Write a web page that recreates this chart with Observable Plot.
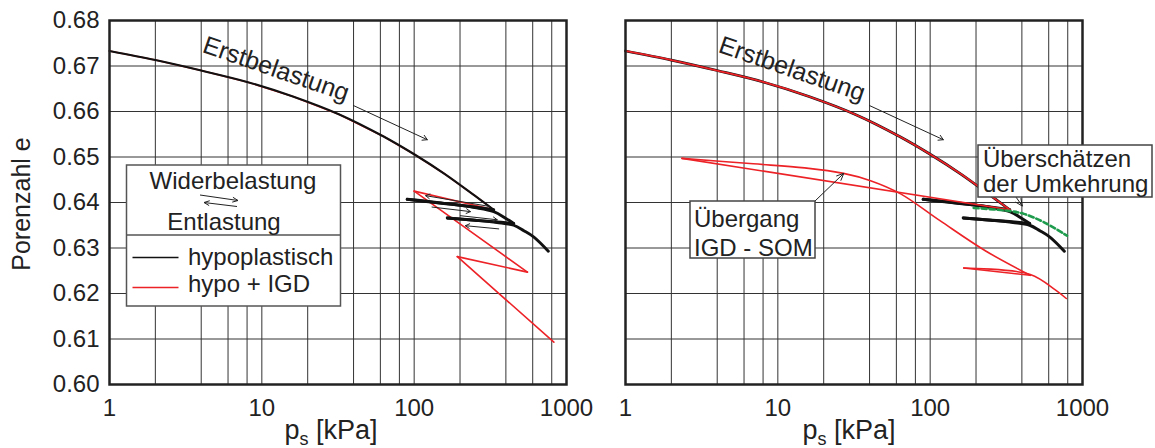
<!DOCTYPE html>
<html>
<head>
<meta charset="utf-8">
<script src="https://cdn.jsdelivr.net/npm/d3@7"></script>
<script src="https://cdn.jsdelivr.net/npm/@observablehq/plot@0.6"></script>
<style>
  body { margin: 0; background: #fff; }
  #chart { position: relative; width: 1155px; height: 448px; }
  #chart svg { position: absolute; top: 0; }
</style>
</head>
<body>
<div id="chart"></div>
<script>
// Oedometer test: void ratio e against vertical stress p_s (log axis)

// grid and tick values
const xGrid = [1, 2, 4, 6, 8, 10, 20, 40, 60, 80, 100, 200, 400, 600, 800, 1000];
const xTicks = [1, 10, 100, 1000];
const yTicks = [0.60, 0.61, 0.62, 0.63, 0.64, 0.65, 0.66, 0.67, 0.68];

// first loading (shared by both models)
const loadP = [1, 2, 4, 8, 16, 32, 63, 100, 160, 250, 333];
const loadE = [0.6733, 0.6713, 0.6690, 0.6665, 0.6633, 0.6594, 0.6545, 0.6506, 0.6462, 0.6415, 0.6384];

// hypoplastic: unloading / reloading cycles after first loading
const hypoCycleP = [200, 120, 90, 150, 250, 333, 400, 450, 330, 230, 165, 250, 350, 450, 525, 611, 760];
const hypoCycleE = [0.6394, 0.6402, 0.6407, 0.6399, 0.6389, 0.6380, 0.6365, 0.6354, 0.6358, 0.6362, 0.6366, 0.6361, 0.6356, 0.6350, 0.6338, 0.6324, 0.6293];

// hypo + IGD (left): cycles after first loading
const igdLeftP = [100, 554, 192, 826];
const igdLeftE = [0.6425, 0.6247, 0.6281, 0.6093];

// hypo + IGD with SOM transition (right): cycles after first loading
const igdRightP = [2.35, 6.9, 15, 27, 40.6, 64, 116, 230, 454, 166, 454, 663, 783];
const igdRightE = [0.6497, 0.6485, 0.6476, 0.6464, 0.6448, 0.6419, 0.6360, 0.6294, 0.6240, 0.6256, 0.6242, 0.6208, 0.6189];

// overestimated reversal (green dashed)
const overP = [193, 336, 412, 556, 791];
const overE = [0.6388, 0.6381, 0.6375, 0.6357, 0.6327];

// direction arrows along the hypoplastic cycles (left panel)
const cycleArrowP1 = [317, 131, 201, 359];
const cycleArrowE1 = [0.6391, 0.6390, 0.6371, 0.6342];
const cycleArrowP2 = [119, 234, 351, 217];
const cycleArrowE2 = [0.6415, 0.6380, 0.6362, 0.6349];

// split a path into monotone branches (loading / unloading) so each can be smoothed
function branches(P, E) {
  const rows = [];
  let b = 0, dir = 0;
  P.forEach((p, i) => {
    if (i > 0) {
      const d = Math.sign(p - P[i - 1]);
      if (dir !== 0 && d !== dir) { b++; rows.push({p: P[i - 1], e: E[i - 1], b}); }
      dir = d;
    }
    rows.push({p, e: E[i], b});
  });
  return rows;
}

const hypo = branches(loadP.concat(hypoCycleP), loadE.concat(hypoCycleE));
const igdLeft = branches(loadP.concat(igdLeftP), loadE.concat(igdLeftE));
const igdRight = branches(loadP.concat(igdRightP), loadE.concat(igdRightE));
const over = overP.map((p, i) => ({p, e: overE[i]}));
const cycleArrows = cycleArrowP1.map((p, i) => ({p1: p, e1: cycleArrowE1[i], p2: cycleArrowP2[i], e2: cycleArrowE2[i]}));

const fontFamily = '"Liberation Sans", Arial, Helvetica, sans-serif';
const ink = "#222";
const red = "#ec2227";
const green = "#1e9b4c";

const firstLoadLabel = [{p: 12.4, e: 0.6693, text: "Erstbelastung"}];
const firstLoadArrow = [{p1: 40, e1: 0.6613, p2: 122, e2: 0.6538}];

function panel({width, marginLeft, marginRight, yAxis, marks}) {
  return Plot.plot({
    width, height: 448,
    marginTop: 20, marginBottom: 64, marginLeft, marginRight,
    style: {fontFamily, fontSize: "24px", color: ink, background: "transparent", overflow: "visible"},
    x: {type: "log", domain: [1, 1000], ticks: xTicks, tickFormat: d => String(d), tickSize: 0, tickPadding: 14, label: null},
    y: {domain: [0.60, 0.68], ticks: yTicks, tickFormat: d3.format(".2f"), tickSize: 0, tickPadding: 10, label: null, axis: yAxis ? "left" : null},
    marks: [
      Plot.ruleX(xGrid, {stroke: "#333", strokeWidth: 1}),
      Plot.ruleY(yTicks.slice(1, -1), {stroke: "#333", strokeWidth: 1}),
      ...marks,
      Plot.text(firstLoadLabel, {x: "p", y: "e", text: "text", rotate: 19, fontSize: 25, fill: ink}),
      Plot.arrow(firstLoadArrow, {x1: "p1", y1: "e1", x2: "p2", y2: "e2", stroke: ink, strokeWidth: 1, headLength: 8}),
      Plot.frame({stroke: ink, strokeWidth: 2.5})
    ]
  });
}

const left = panel({
  width: 590, marginLeft: 109, marginRight: 24, yAxis: true,
  marks: [
    Plot.line(igdLeft, {x: "p", y: "e", z: "b", stroke: red, strokeWidth: 1.6}),
    Plot.line(hypo, {x: "p", y: "e", z: "b", curve: "catmull-rom", stroke: "#111", strokeWidth: d => d.b === 0 ? 2.1 : 2.9}),
    Plot.arrow(cycleArrows, {x1: "p1", y1: "e1", x2: "p2", y2: "e2", stroke: ink, strokeWidth: 1, headLength: 7})
  ]
});

const right = panel({
  width: 565, marginLeft: 35, marginRight: 73, yAxis: false,
  marks: [
    Plot.line(hypo, {x: "p", y: "e", z: "b", curve: "catmull-rom", stroke: "#111", strokeWidth: d => d.b === 0 ? 2.7 : 3}),
    Plot.line(igdRight, {x: "p", y: "e", z: "b", curve: "catmull-rom", stroke: red, strokeWidth: d => d.b === 0 ? 1.8 : 1.6}),
    Plot.line(over, {x: "p", y: "e", curve: "catmull-rom", stroke: green, strokeWidth: 2.6, strokeDasharray: "5,3"})
  ]
});

const chart = document.getElementById("chart");
left.style.left = "0px";
right.style.left = "590px";
chart.append(left, right);

// small open arrow head as a path
function arrowPath(x1, y1, x2, y2, len = 7, spread = 0.42) {
  const a = Math.atan2(y2 - y1, x2 - x1);
  const h1 = [x2 - len * Math.cos(a - spread), y2 - len * Math.sin(a - spread)];
  const h2 = [x2 - len * Math.cos(a + spread), y2 - len * Math.sin(a + spread)];
  return `M${x1},${y1}L${x2},${y2}M${h1}L${x2},${y2}L${h2}`;
}

function addText(g, x, y, str, opts = {}) {
  return g.append("text").attr("x", x).attr("y", y)
    .attr("font-family", fontFamily).attr("font-size", opts.size || 24)
    .attr("fill", ink).attr("text-anchor", opts.anchor || "start").text(str);
}

// axis titles
function xTitle(svg, cx) {
  const t = d3.select(svg).append("text").attr("x", cx).attr("y", 439)
    .attr("font-family", fontFamily).attr("font-size", 27).attr("fill", ink).attr("text-anchor", "middle");
  t.append("tspan").text("p");
  t.append("tspan").attr("font-size", 18).attr("dy", 6).text("s");
  t.append("tspan").attr("dy", -6).text(" [kPa]");
}
xTitle(left, 331);
xTitle(right, 259);

d3.select(left).append("text")
  .attr("transform", "translate(30,204) rotate(-90)")
  .attr("font-family", fontFamily).attr("font-size", 25).attr("fill", ink)
  .attr("text-anchor", "middle").text("Porenzahl e");

// legend box (left panel)
{
  const g = d3.select(left).append("g");
  g.append("rect").attr("x", 126.5).attr("y", 165).attr("width", 214).attr("height", 141)
    .attr("fill", "white").attr("stroke", "#555").attr("stroke-width", 1.5);
  g.append("line").attr("x1", 126.5).attr("x2", 340.5).attr("y1", 235).attr("y2", 235)
    .attr("stroke", "#555").attr("stroke-width", 1.5);
  addText(g, 233, 189, "Widerbelastung", {anchor: "middle"});
  addText(g, 224, 230, "Entlastung", {anchor: "middle"});
  g.append("path").attr("d", arrowPath(200, 195, 238, 200.5, 6)).attr("fill", "none").attr("stroke", ink).attr("stroke-width", 1);
  g.append("path").attr("d", arrowPath(237, 206.5, 204, 202.5, 6)).attr("fill", "none").attr("stroke", ink).attr("stroke-width", 1);
  g.append("line").attr("x1", 132.5).attr("x2", 178.5).attr("y1", 257.5).attr("y2", 257.5).attr("stroke", "#111").attr("stroke-width", 1.6);
  g.append("line").attr("x1", 132.5).attr("x2", 178.5).attr("y1", 287.5).attr("y2", 287.5).attr("stroke", red).attr("stroke-width", 1.6);
  addText(g, 188, 265, "hypoplastisch");
  addText(g, 188, 292, "hypo + IGD");
}

// annotation boxes (right panel), arrows point at data positions
{
  const svg = d3.select(right);
  const sx = right.scale("x"), sy = right.scale("y");
  const off = 590;
  // Übergang IGD - SOM
  const g1 = svg.append("g");
  const tip1 = [sx.apply(27.3), sy.apply(0.6463)];
  g1.append("path").attr("d", arrowPath(815 - off, 201, tip1[0], tip1[1], 8)).attr("fill", "none").attr("stroke", ink).attr("stroke-width", 1);
  g1.append("rect").attr("x", 690 - off).attr("y", 201).attr("width", 125).attr("height", 57)
    .attr("fill", "white").attr("stroke", "#444").attr("stroke-width", 1.5);
  addText(g1, 694 - off, 226.5, "Übergang", {size: 24});
  addText(g1, 694 - off, 255.5, "IGD - SOM", {size: 24});
  // Überschätzen der Umkehrung
  const g2 = svg.append("g");
  const tip2 = [sx.apply(406), sy.apply(0.6391)];
  g2.append("path").attr("d", arrowPath(1011 - off, 190, tip2[0], tip2[1], 8)).attr("fill", "none").attr("stroke", ink).attr("stroke-width", 1);
  g2.append("rect").attr("x", 978 - off).attr("y", 145).attr("width", 174).attr("height", 52)
    .attr("fill", "white").attr("stroke", "#444").attr("stroke-width", 1.5);
  addText(g2, 983 - off, 167, "Überschätzen");
  addText(g2, 983 - off, 192, "der Umkehrung");
}
</script>
</body>
</html>
